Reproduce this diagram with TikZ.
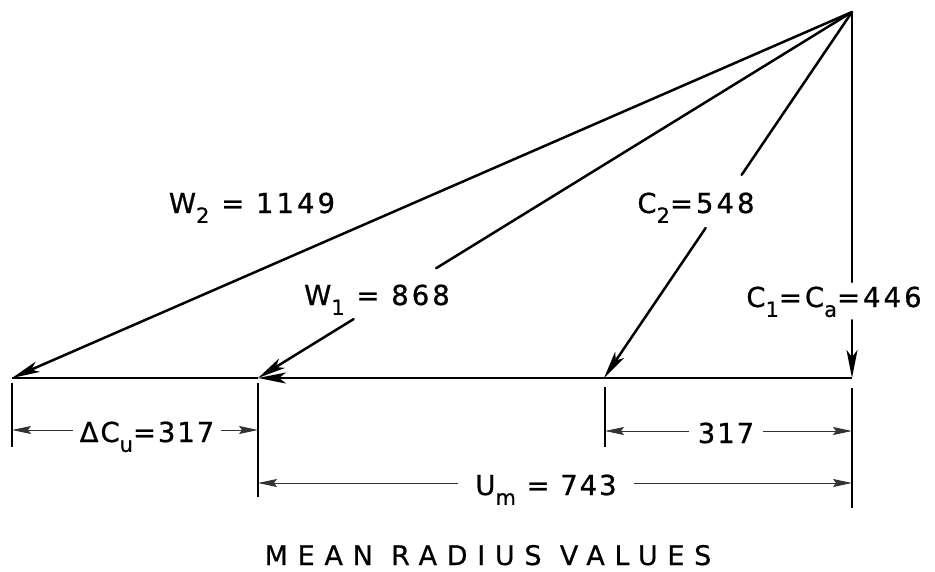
\documentclass[tikz,border=0pt]{standalone}
\usepackage{fontspec}
\setmainfont{DejaVu Sans}
\usetikzlibrary{arrows.meta,calc}
\newcommand\lsub[1]{\raisebox{-0.36em}{\fontsize{21}{21}\selectfont #1}}
\begin{document}
\begin{tikzpicture}[x=1pt,y=-1pt,
  vec/.style={line width=2.5pt,line cap=round},
  vtip/.style={-{Stealth[length=28pt,width=11pt,inset=7pt]}},
  base/.style={line width=2.2pt},
  tick/.style={line width=2.2pt},
  dim/.style={line width=1pt,draw=black!80,-{Stealth[length=19pt,width=8pt,inset=3pt]}},
  lab/.style={anchor=base,inner sep=0pt,font=\fontsize{27.5}{27.5}\selectfont\addfontfeature{LetterSpace=11,FakeBold=0.8}},
  dlab/.style={anchor=base,inner ysep=0pt,font=\fontsize{27.5}{27.5}\selectfont\addfontfeature{LetterSpace=7,FakeBold=0.8}}]
\useasboundingbox (0,0) rectangle (935,571);
% main points
\coordinate (apex) at (852,12);
\coordinate (w2end) at (12,378);
\coordinate (w1end) at (258,378);
\coordinate (c2end) at (604,378);
\coordinate (c1end) at (852,378);
% vectors
\draw[vec,vtip] (apex) -- (w2end);
\draw[vec] (apex) -- ($(apex)!0.70!(w1end)$);
\draw[vec,vtip] ($(apex)!0.839!(w1end)$) -- (w1end);
\draw[vec] (apex) -- ($(apex)!0.445!(c2end)$);
\draw[vec,vtip] ($(apex)!0.59!(c2end)$) -- (c2end);
\draw[vec] (apex) -- ($(apex)!0.738!(c1end)$);
\draw[vec,vtip] ($(apex)!0.842!(c1end)$) -- (c1end);
\draw[base] (w2end) -- (w1end);
\draw[base,vtip] (c1end) -- (w1end);
% ticks
\coordinate (t1a) at (12,383);  \coordinate (t1b) at (12,447);
\coordinate (t2a) at (258,383); \coordinate (t2b) at (258,497);
\coordinate (t3a) at (605,387); \coordinate (t3b) at (605,447);
\coordinate (t4a) at (852,388); \coordinate (t4b) at (852,508);
\draw[tick] (t1a) -- (t1b);
\draw[tick] (t2a) -- (t2b);
\draw[tick] (t3a) -- (t3b);
\draw[tick] (t4a) -- (t4b);
% labels
\node[lab] (lw2) at (252,213) {W\lsub{2} = 1149};
\node[lab] (lw1) at (377,305) {W\lsub{1} = 868};
\node[lab] (lc2) at (696,213) {C\lsub{2}=548};
\node[lab] (lc1) at (834,307) {C\lsub{1}=C\lsub{a}=446};
% dimensions
\coordinate (d1) at (12,430); \coordinate (d2) at (258,430);
\coordinate (d3) at (605,431); \coordinate (d4) at (852,431);
\coordinate (d5) at (258,483); \coordinate (d6) at (852,483);
\node[dlab,inner xsep=7pt] (ldcu) at (147,442) {ΔC\lsub{u}=317};
\node[dlab,inner xsep=9pt] (l317) at (726,443) {317};
\node[dlab,inner xsep=17pt] (lum) at (546,495) {U\lsub{m} = 743};
\draw[dim] (ldcu.west |- d1) -- (d1);
\draw[dim] (ldcu.east |- d2) -- (d2);
\draw[dim] (l317.west |- d3) -- (d3);
\draw[dim] (l317.east |- d4) -- (d4);
\draw[dim] (lum.west |- d5) -- (d5);
\draw[dim] (lum.east |- d6) -- (d6);
% title
\node[anchor=base,inner sep=0pt,font=\fontsize{27}{27}\selectfont\addfontfeature{LetterSpace=36,FakeBold=0.6}] (title) at (488,565) {MEAN RADIUS VALUES};
\end{tikzpicture}
\end{document}
